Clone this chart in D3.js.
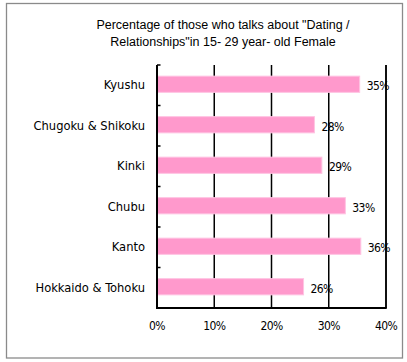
<!DOCTYPE html>
<html>
<head>
<meta charset="utf-8">
<script src="https://cdn.jsdelivr.net/npm/d3@7"></script>
<style>
  body { margin: 0; background: #fff; }
  svg { display: block; }
</style>
</head>
<body>
<div class="graph"></div>
<script>
// Datos del gráfico
const regions = ["Kyushu", "Chugoku & Shikoku", "Kinki", "Chubu", "Kanto", "Hokkaido & Tohoku"];
const values = [35.4, 27.5, 28.8, 32.9, 35.6, 25.6];
const valueLabels = ["35%", "28%", "29%", "33%", "36%", "26%"];
const xTicks = [0, 10, 20, 30, 40];
const titleLines = [
    "Percentage of those who talks about \"Dating /",
    "Relationships\"in 15- 29 year- old Female"
];

const width = 407;
const height = 362;
const margin = { top: 65, left: 157, right: 21, bottom: 54 };

const svg = d3.select(".graph")
    .append("svg")
    .attr("width", width)
    .attr("height", height);

// Marco exterior
svg.append("rect")
    .attr("x", 6.5)
    .attr("y", 3.5)
    .attr("width", 396)
    .attr("height", 354.5)
    .attr("fill", "none")
    .attr("stroke", "#8a8a8a")
    .attr("stroke-width", 1.3);

// Título
svg.append("g")
    .selectAll("text")
    .data(titleLines)
    .join("text")
    .attr("x", 223)
    .attr("y", (d, i) => 29 + i * 17)
    .attr("text-anchor", "middle")
    .style("font-family", "Liberation Sans, Arial, sans-serif")
    .style("font-size", "12.5px")
    .text(d => d);

// Escalas
const xScale = d3.scaleLinear().domain([0, 40]).range([margin.left, width - margin.right]);
const yScale = d3.scaleBand().domain(regions).range([margin.top, height - margin.bottom]).paddingInner(0.6).paddingOuter(0.3);
const yEdges = d3.scaleLinear().domain([0, regions.length]).range([margin.top, height - margin.bottom]);

// Líneas de cuadrícula verticales
svg.append("g")
    .selectAll("line")
    .data(xTicks.slice(1))
    .join("line")
    .attr("x1", d => xScale(d))
    .attr("x2", d => xScale(d))
    .attr("y1", margin.top)
    .attr("y2", height - margin.bottom)
    .attr("stroke", "#000")
    .attr("stroke-width", 1.5);

// Barras
svg.append("g")
    .selectAll("rect")
    .data(regions)
    .join("rect")
    .attr("x", xScale(0))
    .attr("y", d => yScale(d) - 1)
    .attr("width", (d, i) => xScale(values[i]) - xScale(0))
    .attr("height", yScale.bandwidth())
    .attr("fill", "#ff99cc")
    .attr("stroke", "#ffc4e2")
    .attr("stroke-width", 1);

// Eje Y (línea y marcas)
svg.append("line")
    .attr("x1", xScale(0)).attr("x2", xScale(0))
    .attr("y1", margin.top).attr("y2", height - margin.bottom)
    .attr("stroke", "#000").attr("stroke-width", 2);

svg.append("g")
    .selectAll("line")
    .data(d3.range(regions.length))
    .join("line")
    .attr("x1", xScale(0))
    .attr("x2", xScale(0) + 3.5)
    .attr("y1", d => yEdges(d))
    .attr("y2", d => yEdges(d))
    .attr("stroke", "#000")
    .attr("stroke-width", 1.5);

// Eje X
svg.append("line")
    .attr("x1", xScale(0) - 1).attr("x2", xScale(40) + 0.75)
    .attr("y1", height - margin.bottom).attr("y2", height - margin.bottom)
    .attr("stroke", "#000").attr("stroke-width", 2);

const numFont = "DejaVu Sans Condensed, DejaVu Sans, sans-serif";

svg.append("g")
    .selectAll("text")
    .data(xTicks)
    .join("text")
    .attr("x", d => xScale(d))
    .attr("y", 330)
    .attr("text-anchor", "middle")
    .style("font-family", numFont)
    .style("font-size", "12px")
    .style("letter-spacing", "-0.6px")
    .text(d => d + "%");

// Etiquetas de categorías
svg.append("g")
    .selectAll("text")
    .data(regions)
    .join("text")
    .attr("x", 145)
    .attr("y", d => yScale(d) + yScale.bandwidth() / 2 + 4)
    .attr("text-anchor", "end")
    .style("font-family", numFont)
    .style("font-size", "12.8px")
    .text(d => d);

// Etiquetas de valores
svg.append("g")
    .selectAll("text")
    .data(regions)
    .join("text")
    .attr("x", (d, i) => xScale(values[i]) + 7)
    .attr("y", d => yScale(d) + yScale.bandwidth() / 2 + 5)
    .style("font-family", numFont)
    .style("font-size", "12px")
    .style("letter-spacing", "-0.6px")
    .text((d, i) => valueLabels[i]);

// Re-dibujar la última línea de cuadrícula sobre las etiquetas
svg.append("line")
    .attr("x1", xScale(40)).attr("x2", xScale(40))
    .attr("y1", margin.top).attr("y2", height - margin.bottom)
    .attr("stroke", "#000").attr("stroke-width", 1.5);
</script>
</body>
</html>
